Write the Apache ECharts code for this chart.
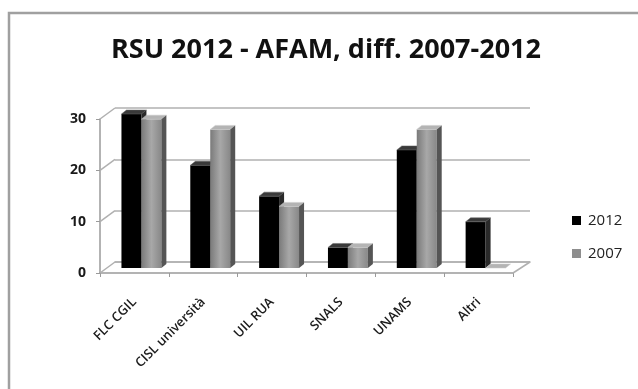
<!DOCTYPE html>
<html>
<head>
<meta charset="utf-8">
<script src="https://cdn.jsdelivr.net/npm/echarts@6/dist/echarts.min.js"></script>
<style>
  html, body { margin: 0; padding: 0; background: #fff; }
  #chart { width: 638px; height: 389px; }
</style>
</head>
<body>
<div id="chart"></div>
<script>
const categories = ['FLC CGIL', 'CISL università', 'UIL RUA', 'SNALS', 'UNAMS', 'Altri'];
const values2012 = [30, 20, 14, 4, 23, 9];
const values2007 = [29, 27, 12, 4, 27, 0];
const seriesNames = ['2012', '2007'];
const yTicks = [0, 10, 20, 30];

// front grid (labels), back wall grid, bar grid (mid depth)
const front = {left: 100, top: 119, width: 413, height: 154};
const back = {left: 115, top: 108, width: 415, height: 154};
const bars = {left: 107, top: 114, width: 413, height: 154};
const depth = [5, 4];

const grey2007 = new echarts.graphic.LinearGradient(0, 0, 1, 0, [
  {offset: 0, color: '#7a7a7a'},
  {offset: 0.5, color: '#a8a8a8'},
  {offset: 1, color: '#888888'}
]);

const faceStyles = [
  {front: '#000000', top: '#3a3a3a', side: '#2a2a2a'},
  {front: grey2007, top: '#b4b4b4', side: '#555555'}
];

const makeRender = (idx) => (params, api) => {
  const cat = api.value(0);
  const val = api.value(1);
  const base = api.coord([cat, 0]);
  const topPt = api.coord([cat, val]);
  const band = api.size([1, 0])[0];
  const w = band * 0.29;
  const x0 = base[0] - w + idx * w;
  const x1 = x0 + w;
  const yT = topPt[1], yB = base[1];
  const [dx, dy] = depth;
  const st = faceStyles[idx];
  const children = [];
  if (yB - yT > 0.5) {
    children.push({type: 'rect', shape: {x: x0, y: yT, width: w, height: yB - yT}, style: {fill: st.front}});
  }
  children.push({type: 'polygon', shape: {points: [[x0, yT], [x1, yT], [x1 + dx, yT - dy], [x0 + dx, yT - dy]]},
    style: {fill: st.top, stroke: idx === 0 ? '#666' : '#c8c8c8', lineWidth: 0.5}});
  if (yB - yT > 0.5) {
    children.push({type: 'polygon', shape: {points: [[x1, yT], [x1 + dx, yT - dy], [x1 + dx, yB - dy], [x1, yB]]},
      style: {fill: st.side}});
  }
  return {type: 'group', children: children};
};

const chart = echarts.init(document.getElementById('chart'), null, {renderer: 'canvas'});

const option = {
  animation: false,
  backgroundColor: '#fff',
  title: {
    text: 'RSU 2012 - AFAM, diff. 2007-2012',
    left: 106,
    top: 32,
    textStyle: {fontFamily: 'Open Sans', fontWeight: 'bold', fontSize: 27, color: '#111'}
  },
  legend: {
    orient: 'vertical',
    left: 567,
    top: 208,
    itemWidth: 9,
    itemHeight: 9,
    itemGap: 18,
    icon: 'rect',
    data: seriesNames,
    textStyle: {fontFamily: 'Open Sans', fontSize: 15, color: '#222', padding: [0, 0, 0, 2]}
  },
  grid: [
    Object.assign({}, front),
    Object.assign({}, back),
    Object.assign({}, bars)
  ],
  xAxis: [
    {
      gridIndex: 0, type: 'category', data: categories,
      axisLine: {lineStyle: {color: '#9a9a9a', width: 1.5}},
      axisTick: {show: true, length: 4, lineStyle: {color: '#9a9a9a'}},
      axisLabel: {rotate: 45, margin: 27, fontFamily: 'Open Sans', fontWeight: 600, fontSize: 13, color: '#1a1a1a'}
    },
    {
      gridIndex: 1, type: 'category', data: categories,
      axisLine: {lineStyle: {color: '#b0b0b0', width: 1.5}},
      axisTick: {show: false}, axisLabel: {show: false}
    },
    {gridIndex: 2, type: 'category', data: categories, show: false}
  ],
  yAxis: [
    {
      gridIndex: 0, type: 'value', min: 0, max: 30, interval: 10,
      axisLine: {show: true, lineStyle: {color: '#9a9a9a', width: 1.5}},
      axisTick: {show: true, length: 4, lineStyle: {color: '#9a9a9a'}},
      splitLine: {show: false},
      axisLabel: {margin: 14, padding: [8, 0, 0, 0], fontFamily: 'Open Sans', fontWeight: 'bold', fontSize: 14, color: '#1a1a1a'}
    },
    {
      gridIndex: 1, type: 'value', min: 0, max: 30, interval: 10,
      axisLine: {show: false}, axisTick: {show: false}, axisLabel: {show: false},
      splitLine: {show: true, lineStyle: {color: '#b0b0b0', width: 1.5}}
    },
    {gridIndex: 2, type: 'value', min: 0, max: 30, show: false}
  ],
  series: [
    {
      name: seriesNames[0], type: 'custom', xAxisIndex: 2, yAxisIndex: 2,
      itemStyle: {color: '#000'},
      renderItem: makeRender(0),
      encode: {x: 0, y: 1},
      data: values2012.map((v, i) => [i, v])
    },
    {
      name: seriesNames[1], type: 'custom', xAxisIndex: 2, yAxisIndex: 2,
      itemStyle: {color: '#8e8e8e'},
      renderItem: makeRender(1),
      encode: {x: 0, y: 1},
      data: values2007.map((v, i) => [i, v])
    }
  ]
};

chart.setOption(option);

// 3D wall / floor edges joining the front axis to the back wall
const wallLines = yTicks.map((v) => {
  const yf = chart.convertToPixel({yAxisIndex: 0}, v);
  const yb = chart.convertToPixel({yAxisIndex: 1}, v);
  return {type: 'line', shape: {x1: front.left, y1: yf, x2: back.left, y2: yb},
    style: {stroke: '#b0b0b0', lineWidth: 1.5}, z: 1};
});
const yf0 = chart.convertToPixel({yAxisIndex: 0}, 0);
const yb0 = chart.convertToPixel({yAxisIndex: 1}, 0);
wallLines.push({type: 'line',
  shape: {x1: front.left + front.width, y1: yf0, x2: back.left + back.width, y2: yb0},
  style: {stroke: '#b0b0b0', lineWidth: 1.5}, z: 1});

chart.setOption({
  graphic: [
    {type: 'rect', shape: {x: 9, y: 13, width: 700, height: 450},
      style: {fill: 'none', stroke: '#a0a0a0', lineWidth: 2.5}, z: 0}
  ].concat(wallLines)
});
</script>
</body>
</html>
